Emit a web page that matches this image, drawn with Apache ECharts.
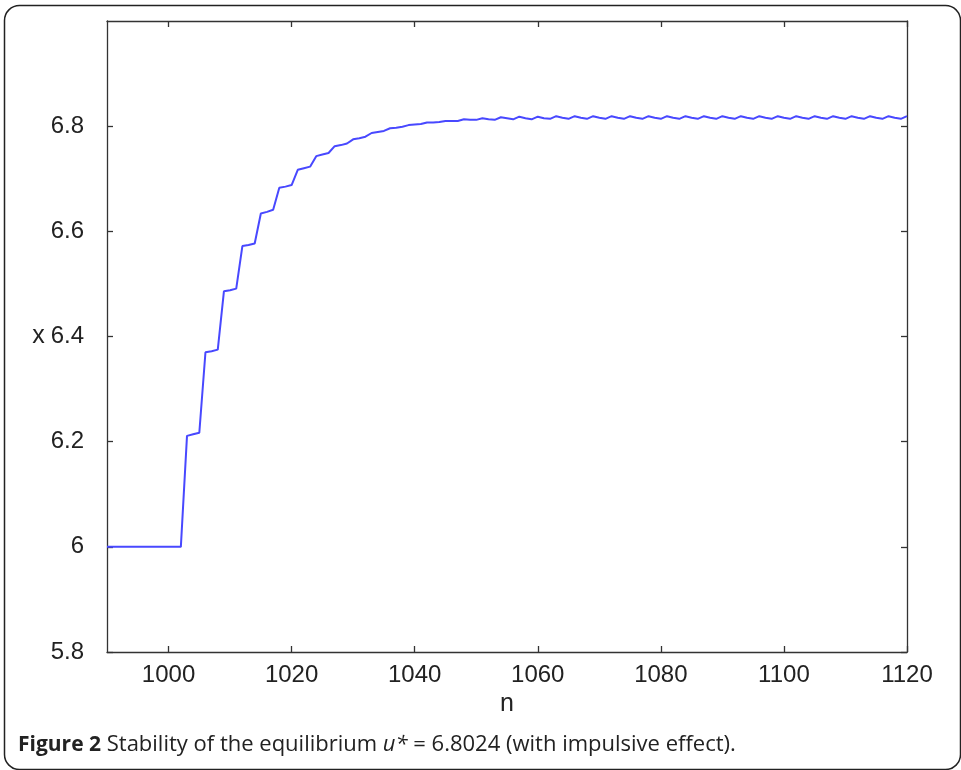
<!DOCTYPE html>
<html>
<head>
<meta charset="utf-8">
<script src="https://cdn.jsdelivr.net/npm/echarts@6/dist/echarts.min.js"></script>
<style>
html,body{margin:0;padding:0;background:#fff;}
#chart{width:961px;height:770px;}
</style>
</head>
<body>
<div id="chart"></div>
<script>
// ---- data ----
const N_START = 990; // first n; each value below is one successive integer n
const xValues = [
  6.000, 6.000, 6.000, 6.000, 6.000, 6.000, 6.000, 6.000, 6.000, 6.000, 6.000, 6.000, 6.000,
  6.211, 6.214, 6.217,
  6.370, 6.372, 6.375,
  6.486, 6.488, 6.491,
  6.572, 6.574, 6.577,
  6.634, 6.637, 6.641,
  6.683, 6.685, 6.688,
  6.717, 6.720, 6.723,
  6.743, 6.746, 6.749,
  6.762, 6.764, 6.767,
  6.775, 6.777, 6.780,
  6.787, 6.789, 6.791,
  6.796, 6.797, 6.799,
  6.802, 6.803, 6.804,
  6.807, 6.807, 6.808,
  6.810, 6.810, 6.810,
  6.813, 6.812, 6.812,
  6.815, 6.813, 6.812,
  6.817, 6.815, 6.813,
  6.818, 6.815, 6.813,
  6.818, 6.815, 6.814,
  6.819, 6.816, 6.814,
  6.819, 6.816, 6.814,
  6.819, 6.816, 6.814,
  6.819, 6.816, 6.814,
  6.819, 6.816, 6.814,
  6.819, 6.816, 6.814,
  6.819, 6.816, 6.814,
  6.819, 6.816, 6.814,
  6.819, 6.816, 6.814,
  6.819, 6.816, 6.814,
  6.819, 6.816, 6.814,
  6.819, 6.816, 6.814,
  6.819, 6.816, 6.814,
  6.819, 6.816, 6.814,
  6.819, 6.816, 6.814,
  6.819, 6.816, 6.814,
  6.819, 6.816, 6.814,
  6.819, 6.816, 6.814,
  6.819, 6.816, 6.814,
  6.819
];
const xTicks = [1000, 1020, 1040, 1060, 1080, 1100, 1120];
const yTicks = [5.8, 6, 6.2, 6.4, 6.6, 6.8];
const xName = 'n';
const yName = 'x';

// ---- chart ----
const seriesData = xValues.map((v, i) => [N_START + i, v]);
const chart = echarts.init(document.getElementById('chart'), null, {renderer: 'canvas'});
const axisColor = '#333';
const tickFont = 'Liberation Sans, sans-serif';

function xAx(pos, show) {
  return {
    type: 'value', position: pos, min: 990, max: 1120,
    axisLine: {show: true, onZero: false, lineStyle: {color: axisColor, width: 1.3}},
    axisTick: {show: true, inside: true, length: 6, customValues: xTicks, lineStyle: {color: axisColor, width: 1.3}},
    axisLabel: {show: show, margin: 11, customValues: xTicks, fontFamily: tickFont, fontSize: 24, color: '#222',
      formatter: v => String(v)},
    splitLine: {show: false},
    name: show ? xName : '', nameLocation: 'middle', nameGap: 40,
    nameTextStyle: {fontFamily: tickFont, fontSize: 25, color: '#222'}
  };
}
function yAx(pos, show) {
  return {
    type: 'value', position: pos, min: 5.8, max: 7.0,
    axisLine: {show: true, onZero: false, lineStyle: {color: axisColor, width: 1.3}},
    axisTick: {show: true, inside: true, length: 6, customValues: yTicks, lineStyle: {color: axisColor, width: 1.3}},
    axisLabel: {show: show, margin: 23, customValues: yTicks, fontFamily: tickFont, fontSize: 24, color: '#222',
      formatter: v => String(v)},
    splitLine: {show: false},
    name: show ? yName : '', nameLocation: 'middle', nameGap: 59, nameRotate: 0,
    nameTextStyle: {fontFamily: tickFont, fontSize: 25, color: '#222'}
  };
}

chart.setOption({
  animation: false,
  backgroundColor: '#fff',
  grid: {left: 107, top: 21, width: 800, height: 631, containLabel: false},
  xAxis: [xAx('bottom', true), xAx('top', false)],
  yAxis: [yAx('left', true), yAx('right', false)],
  series: [{
    type: 'line', xAxisIndex: 0, yAxisIndex: 0,
    data: seriesData, showSymbol: false, symbol: 'none',
    lineStyle: {color: '#4848ff', width: 2}
  }],
  graphic: [
    {
      type: 'rect', left: 2, top: 3, silent: true,
      shape: {x: 0, y: 0, width: 956, height: 764, r: 15},
      style: {fill: 'none', stroke: '#222', lineWidth: 1.5}
    },
    {
      type: 'text', x: 18, y: 745, silent: true,
      style: {
        text: '{b|Figure 2} {r|Stability of the equilibrium }{i|u*}{r| = 6.8024 (with impulsive effect).}',
        fontFamily: 'Open Sans', fontSize: 22, fill: '#222', verticalAlign: 'middle',
        rich: {
          b: {fontFamily: 'Open Sans', fontSize: 21, fontWeight: 'bold', fill: '#222'},
          r: {fontFamily: 'Open Sans', fontSize: 22, fill: '#222'},
          i: {fontFamily: 'Open Sans', fontSize: 22, fontStyle: 'italic', fill: '#222'}
        }
      }
    }
  ]
});
</script>
</body>
</html>
